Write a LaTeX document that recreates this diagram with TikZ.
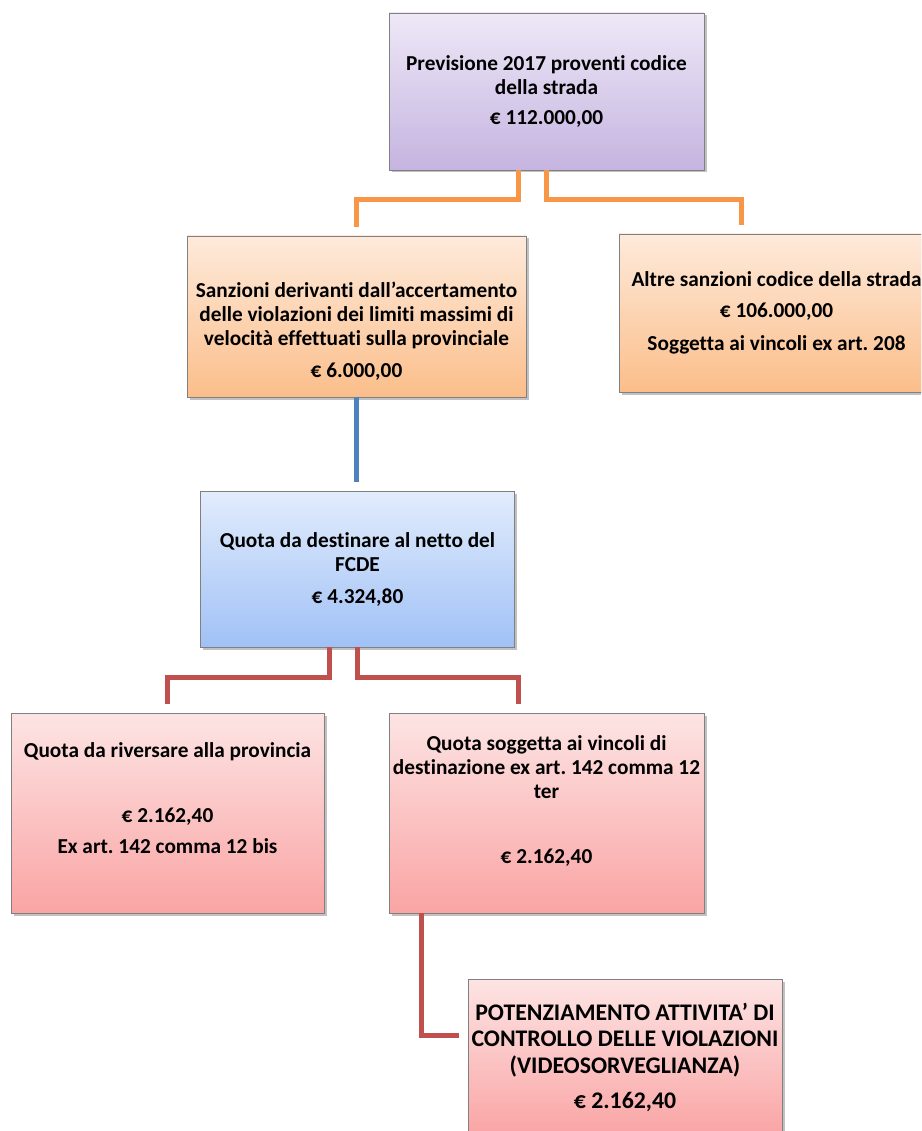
\documentclass[tikz,border=0pt]{standalone}
\usepackage{fontspec}
\setmainfont{Carlito}[Ligatures=NoCommon]
\usetikzlibrary{calc,shadows}
\definecolor{bordo}{RGB}{128,128,128}
\definecolor{violaA}{RGB}{238,232,247}
\definecolor{violaB}{RGB}{197,180,224}
\definecolor{arancioA}{RGB}{254,234,219}
\definecolor{arancioB}{RGB}{251,190,138}
\definecolor{azzurroA}{RGB}{226,236,252}
\definecolor{azzurroB}{RGB}{160,193,246}
\definecolor{rosaA}{RGB}{253,228,228}
\definecolor{rosaB}{RGB}{250,164,164}
\definecolor{larancio}{RGB}{247,150,70}
\definecolor{lblu}{RGB}{79,129,189}
\definecolor{lrosso}{RGB}{192,80,77}
\tikzset{
  scatola/.style={draw=bordo, line width=0.8pt, align=center, inner sep=0pt,
    font=\fontsize{21.3}{24}\selectfont\bfseries\frenchspacing, minimum width=315pt, minimum height=157pt,
    drop shadow={shadow xshift=2.5pt, shadow yshift=-2.5pt, opacity=0.35, fill=black!70}},
  viola/.style={scatola, top color=violaA, bottom color=violaB},
  arancio/.style={scatola, top color=arancioA, bottom color=arancioB},
  azzurro/.style={scatola, top color=azzurroA, bottom color=azzurroB},
  rosa/.style={scatola, top color=rosaA, bottom color=rosaB},
  lin/.style={line width=5pt, shorten >=9pt},
}
\begin{document}
\begin{tikzpicture}[x=1pt, y=-1pt]
  \path[use as bounding box] (0,0) rectangle (921,1131);
  \clip (0,0) rectangle (921,1131);
  % caselle
  \node[viola] (prev) at (546.5,91.5)
   {Previsione 2017 proventi codice\\ della strada\\[6pt] € 112.000,00};
  \node[arancio, minimum width=339pt, minimum height=161pt] (sanz) at (356.5,316.5)
   {\rule{0pt}{44pt}Sanzioni derivanti dall’accertamento\\ delle violazioni dei limiti massimi di\\ velocità effettuati sulla provinciale\\[8pt] € 6.000,00};
  \node[arancio, minimum height=158pt] (altre) at (776.5,313)
   {Altre sanzioni codice della strada\\[7pt] € 106.000,00\\[9pt] Soggetta ai vincoli ex art. 208};
  \node[azzurro, minimum width=314pt, minimum height=156pt] (quota) at (357.5,569)
   {Quota da destinare al netto del\\ FCDE\\[8pt] € 4.324,80};
  \node[rosa, minimum width=313pt, minimum height=200pt] (riv) at (167.5,813)
   {Quota da riversare alla provincia\\[41pt] € 2.162,40\\[7pt] Ex art. 142 comma 12 bis\rule[-29pt]{0pt}{0pt}};
  \node[rosa, minimum height=200pt] (sogg) at (546.5,813)
   {Quota soggetta ai vincoli di\\ destinazione ex art. 142 comma 12\\ ter\\[41pt] € 2.162,40\rule[-27pt]{0pt}{0pt}};
  \node[rosa, minimum width=314pt, font=\fontsize{23.8}{26.5}\selectfont\bfseries] (pot) at (625,1057.5)
   {POTENZIAMENTO ATTIVITA’ DI\\ CONTROLLO DELLE VIOLAZIONI\\ (VIDEOSORVEGLIANZA)\\[9pt] € 2.162,40};
  % collegamenti
  \draw[lin, larancio] ([xshift=-28pt]prev.south) -- ++(0,29) -| (sanz.north);
  \draw[lin, larancio] (prev.south) -- ++(0,29) -| ([xshift=-35pt]altre.north);
  \draw[lin, lblu] (sanz.south) -- (sanz.south |- quota.north);
  \draw[lin, lrosso] ([xshift=-28pt]quota.south) -- ++(0,30) -| (riv.north);
  \draw[lin, lrosso] (quota.south) -- ++(0,30) -| ([xshift=-28pt]sogg.north);
  \draw[lin, lrosso] ([xshift=-125pt]sogg.south) |- ([yshift=22pt]pot.west);
\end{tikzpicture}
\end{document}
